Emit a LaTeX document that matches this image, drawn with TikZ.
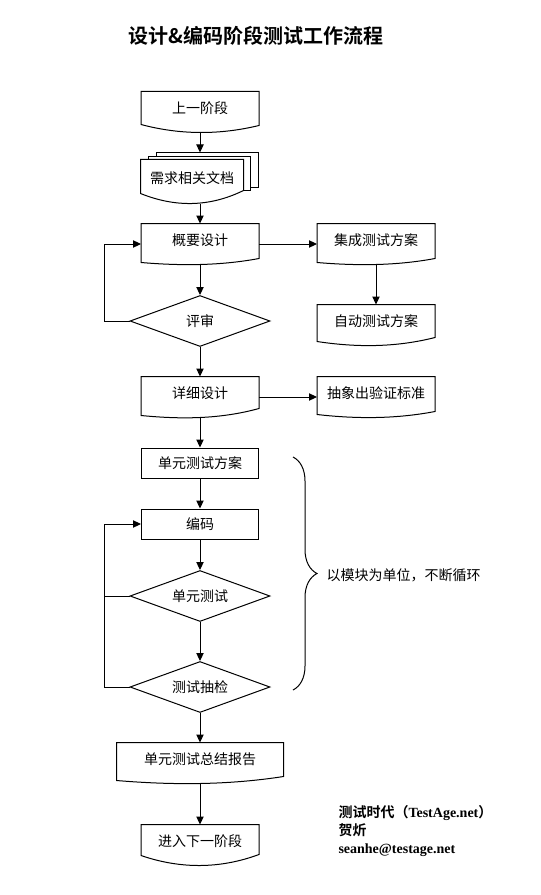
\documentclass[tikz,border=0pt]{standalone}
\usepackage{fontspec}
\setmainfont{Liberation Serif}
\newfontfamily\cjk[BoldFont={Noto Sans CJK SC Bold}]{Noto Sans CJK SC}
\usetikzlibrary{arrows.meta,shapes.geometric,calc,decorations.pathreplacing}

\newcommand{\boxfont}{\cjk\fontsize{10.5}{12}\selectfont}

\tikzset{
    stepbox/.style={draw, rectangle, minimum width=87.75pt, minimum height=22.5pt, inner sep=0pt, font=\boxfont},
    docbox/.style={rectangle, minimum width=87.75pt, minimum height=30pt, inner sep=0pt, text depth=6pt, font=\boxfont},
    checkbox/.style={draw, diamond, aspect=2.75, minimum width=105pt, minimum height=38.25pt, inner sep=0pt, font=\boxfont},
    arr/.style={-{Triangle[length=6pt,width=5.5pt]}},
}

\begin{document}
\begin{tikzpicture}[x=0.75pt,y=0.75pt,yscale=-1,xscale=1,line width=0.75pt]
    \useasboundingbox (0,0) rectangle (540,895);

    % Title
    \node [font=\cjk\bfseries\fontsize{15}{18}\selectfont] (title) at (256,36) {设计\&编码阶段测试工作流程};

    % Main column
    \node [docbox] (prev) at (200,112) {上一阶段};
    \node [docbox, minimum width=76.5pt, minimum height=32.25pt] (req) at (192,181.5) {需求相关文档};
    \node [docbox] (hl) at (200,244) {概要设计};
    \node [checkbox] (review) at (200,321) {评审};
    \node [docbox] (dd) at (200,397) {详细设计};
    \node [stepbox] (utp) at (200,463) {单元测试方案};
    \node [stepbox] (code) at (200,524) {编码};
    \node [checkbox] (ut) at (200,596) {单元测试};
    \node [checkbox] (spot) at (200,687) {测试抽检};
    \node [docbox, minimum width=124.5pt] (sum) at (200,763) {单元测试总结报告};
    \node [docbox] (next) at (200,845) {进入下一阶段};

    % Right column
    \node [docbox] (int) at (376,244) {集成测试方案};
    \node [docbox] (auto) at (376,325) {自动测试方案};
    \node [docbox] (abs) at (376,397) {抽象出验证标准};

    % Document outlines
    \foreach \n/\l/\r in {prev/8/7, req/10/13, hl/2/6, int/2/6, auto/4/8, dd/2/9, abs/3/6, sum/3/7, next/10/11}
        \draw (\n.north west) -- (\n.north east) -- ($(\n.south east)+(0,-\r)$)
            .. controls ($(\n.south east)!0.333!(\n.south west)+(0,{(\l+\r)/6})$) and ($(\n.south east)!0.667!(\n.south west)+(0,{(\l+\r)/6})$) .. ($(\n.south west)+(0,-\l)$) -- cycle;

    % Stacked pages behind req
    \draw ($(req.north west)+(8,0)$) -- ++(0,-3) -- ($(req.north east)+(7,-3)$) -- ($(req.south east)+(7,-13)$) -- ($(req.south east)+(0,-13)$);
    \draw ($(req.north west)+(16,-3)$) -- ++(0,-4) -- ($(req.north east)+(15,-7)$) -- ($(req.south east)+(15,-16)$) -- ($(req.south east)+(7,-16)$);
    \coordinate (reqtop) at ($(req.north)+(8,-7)$);

    % Connectors
    \draw [arr] (prev.south) -- (reqtop);
    \draw [arr] (req.south -| hl.north) -- (hl.north);
    \draw [arr] (hl.east) -- (int.west);
    \draw [arr] (int.south) -- (auto.north);
    \draw [arr] (hl.south) -- (review.north);
    \draw [arr] (review.west) -- ++(-25,0) |- (hl.west);
    \draw [arr] (review.south) -- (dd.north);
    \draw [arr] (dd.east) -- (abs.west);
    \draw [arr] (dd.south) -- (utp.north);
    \draw [arr] (utp.south) -- (code.north);
    \draw [arr] (code.south) -- (ut.north);
    \draw [arr] (ut.south) -- (spot.north);
    \draw (ut.west) -- ++(-25,0);
    \draw [arr] (spot.west) -- ++(-25,0) |- (code.west);
    \draw [arr] (spot.south) -- (sum.north);
    \draw [arr] (sum.south) -- (next.north);

    % Brace and note
    \draw [decorate, decoration={brace, amplitude=18pt}] (293,457) -- (293,690);
    \node [anchor=west, inner sep=0pt, font=\boxfont] (note) at (326,575) {以模块为单位，不断循环};

    % Credits
    \node [anchor=north west, align=left, inner sep=0pt, font=\bfseries\fontsize{10.5}{13.5}\selectfont] (credit) at (338,805) {{\cjk 测试时代（}TestAge.net{\cjk ）}\\{\cjk 贺炘}\\seanhe@testage.net};

\end{tikzpicture}
\end{document}
